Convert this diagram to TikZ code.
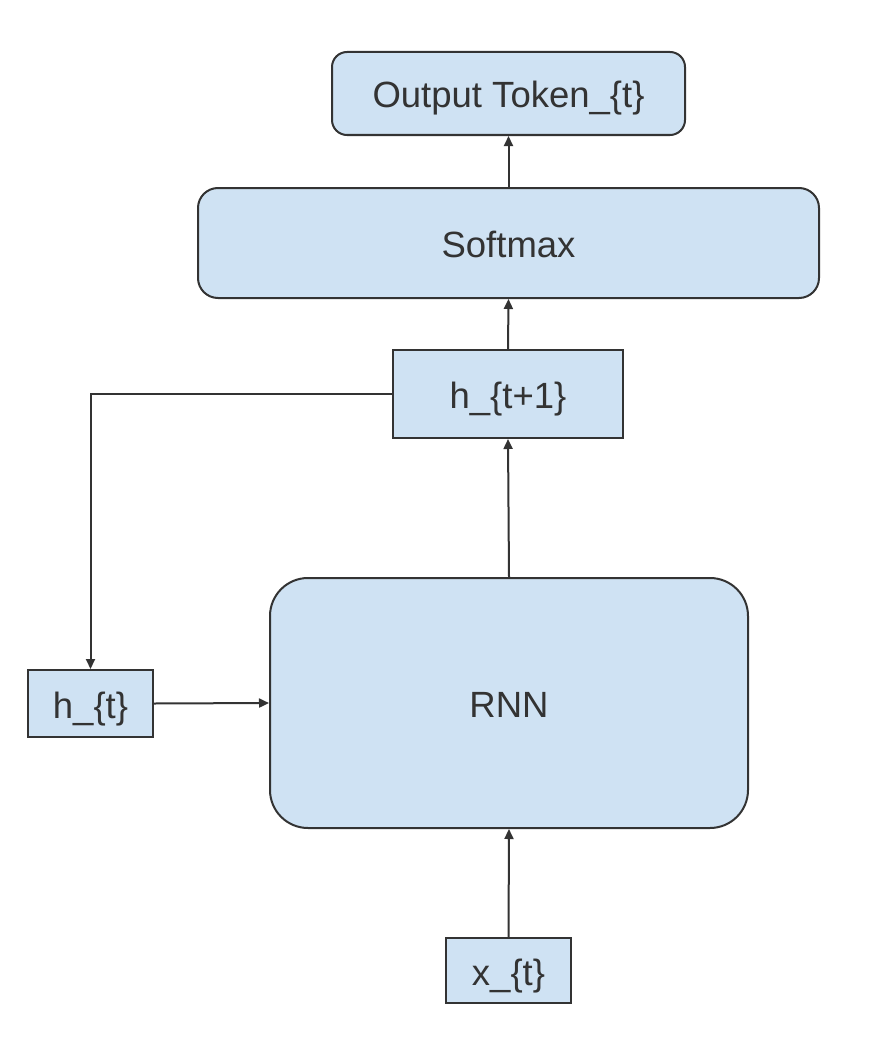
\documentclass[tikz,border=0pt]{standalone}
\usepackage{fontspec}
\setmainfont{Liberation Sans}
\usetikzlibrary{arrows.meta}
\definecolor{boxfill}{HTML}{CFE2F3}
\definecolor{edgec}{HTML}{333333}
\begin{document}
\begin{tikzpicture}[x=1pt,y=-1pt,
  box/.style={draw=edgec, fill=boxfill, line width=2pt, inner sep=0pt,
    text=edgec, font=\fontsize{36.5}{40}\selectfont, text height=29pt, text depth=0pt},
  arr/.style={draw=edgec, line width=2pt, -{Triangle[length=10pt,width=9pt]}}]
\useasboundingbox (0,0) rectangle (872,1038);
\node[box, rounded corners=15pt, minimum width=353pt, minimum height=83pt] (out) at (508.5,93.5) {Output Token\_\{t\}};
\node[box, rounded corners=20pt, minimum width=621pt, minimum height=110pt] (soft) at (508.5,243) {Softmax};
\node[box, minimum width=230pt, minimum height=88pt] (h1) at (508,394) {h\_\{t+1\}};
\node[box, rounded corners=38pt, minimum width=478pt, minimum height=250pt] (rnn) at (509,703) {RNN};
\node[box, minimum width=125pt, minimum height=67pt] (ht) at (90.5,703.5) {h\_\{t\}};
\node[box, minimum width=125pt, minimum height=65pt] (xt) at (508.5,970.5) {x\_\{t\}};
\draw[arr] (soft.north) -- (out.south);
\draw[arr] (h1.north) -- (soft.south);
\draw[arr] (rnn.north) -- (h1.south);
\draw[arr] (xt.north) -- (rnn.south);
\draw[arr] (ht.east) -- (rnn.west);
\draw[arr] (h1.west) -| (ht.north);
\end{tikzpicture}
\end{document}
